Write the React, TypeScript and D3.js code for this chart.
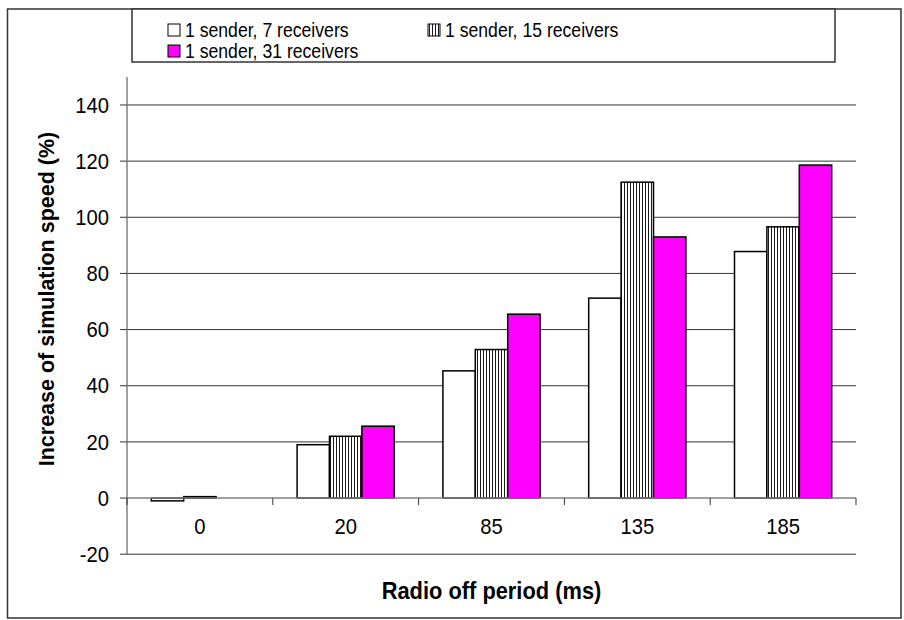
// Radio-off period vs. simulation speed gain — clustered bar chart in the
// old Excel look: framed page, boxed legend at the top, hatched middle series.
import * as d3 from "d3";

const CATEGORIES = ["0", "20", "85", "135", "185"];
const SERIES_NAMES = [
  "1 sender, 7 receivers",
  "1 sender, 15 receivers",
  "1 sender, 31 receivers",
];
const S7 = [-1, 19, 45.3, 71.2, 87.8];
const S15 = [0.5, 22, 52.9, 112.5, 96.6];
const S31 = [null, 25.6, 65.5, 93, 118.6];
const Y_TICKS = [-20, 0, 20, 40, 60, 80, 100, 120, 140];

const W = 904;
const H = 620;
const FONT = "'Liberation Sans', Arial, sans-serif";

// plot box (pixel frame of the value axis)
const left = 127;
const right = 856;
const y = d3.scaleLinear().domain([-20, 150]).range([554.2, 76.9]);

const fills = ["#ffffff", "url(#vstripes)", "#ff00ff"];

// Excel squeezed the type horizontally; mimic with a scaleX on each label
function SqText({
  x,
  y,
  sx,
  anchor,
  size,
  bold,
  children,
}: {
  x: number;
  y: number;
  sx: number;
  anchor?: "start" | "middle" | "end";
  size: number;
  bold?: boolean;
  children: string;
}) {
  return (
    <text
      transform={`translate(${x},${y}) scale(${sx},1)`}
      dy="0.35em"
      textAnchor={anchor ?? "start"}
      fontSize={size}
      fontWeight={bold ? "bold" : "normal"}
      fill="#000"
    >
      {children}
    </text>
  );
}

export default function App() {
  const x = d3.scaleBand<string>().domain(CATEGORIES).range([left, right]);
  const bw = x.bandwidth();
  const keys = ["a", "b", "c"];
  const xs = d3
    .scaleBand<string>()
    .domain(keys)
    .range([0, bw])
    .paddingInner(0)
    .paddingOuter(0.75);
  const values = [S7, S15, S31];

  const y0 = y(0);

  return (
    <svg
      width={W}
      height={H}
      viewBox={`0 0 ${W} ${H}`}
      style={{ position: "absolute", left: 0, top: 0 }}
      fontFamily={FONT}
    >
      <defs>
        <pattern id="vstripes" width={3} height={4} patternUnits="userSpaceOnUse">
          <rect width={3} height={4} fill="#ffffff" />
          <rect x={0} width={1} height={4} fill="#1a1a1a" />
        </pattern>
      </defs>
      <rect width={W} height={H} fill="#ffffff" />

      {/* outer frame */}
      <rect x={7.5} y={9} width={893.5} height={609} fill="none" stroke="#333" strokeWidth={1.5} />

      {/* gridlines */}
      {Y_TICKS.filter((t) => t !== 0).map((t) => (
        <line key={t} x1={left} x2={right} y1={y(t)} y2={y(t)} stroke="#333" strokeWidth={1} />
      ))}

      {/* y axis */}
      <line x1={left} x2={left} y1={y(150)} y2={y(-20)} stroke="#808080" strokeWidth={1.5} />
      {Y_TICKS.map((t) => (
        <g key={t}>
          <line x1={left - 7} x2={left} y1={y(t)} y2={y(t)} stroke="#333" strokeWidth={1} />
          <SqText x={109} y={y(t)} sx={0.92} anchor="end" size={22}>
            {String(t)}
          </SqText>
        </g>
      ))}

      {/* bars */}
      {values.map((vals, si) =>
        CATEGORIES.map((c, ci) => {
          const v = vals[ci];
          if (v == null) return null;
          const bx = (x(c) ?? 0) + (xs(keys[si]) ?? 0);
          const top = Math.min(y(v), y0);
          const h = Math.abs(y(v) - y0);
          return (
            <rect
              key={`${si}-${c}`}
              x={bx}
              y={top}
              width={xs.bandwidth()}
              height={h}
              fill={fills[si]}
              stroke="#000"
              strokeWidth={1.5}
            />
          );
        })
      )}

      {/* x axis at zero */}
      <line x1={left} x2={right} y1={y0} y2={y0} stroke="#808080" strokeWidth={1.5} />
      {[...CATEGORIES.map((c) => x(c) ?? 0), right].map((px, i) => (
        <line key={i} x1={px} x2={px} y1={y0} y2={y0 + 7} stroke="#333" strokeWidth={1} />
      ))}
      {CATEGORIES.map((c) => (
        <SqText key={c} x={(x(c) ?? 0) + bw / 2} y={y0 + 28} sx={0.92} anchor="middle" size={22}>
          {c}
        </SqText>
      ))}

      {/* axis titles */}
      <text
        transform={`translate(46,299) rotate(-90)`}
        textAnchor="middle"
        dy="0.35em"
        fontSize={21.5}
        fontWeight="bold"
        fill="#000"
      >
        Increase of simulation speed (%)
      </text>
      <SqText x={(left + right) / 2} y={591} sx={0.95} anchor="middle" bold size={23}>
        Radio off period (ms)
      </SqText>

      {/* legend */}
      <rect x={132} y={9} width={703} height={53} fill="#ffffff" stroke="#333" strokeWidth={1.5} />
      {SERIES_NAMES.map((name, i) => {
        const lx = i === 1 ? 428 : 168;
        const ly = i === 2 ? 51 : 30;
        return (
          <g key={name}>
            <rect x={lx} y={ly - 6} width={12} height={12} fill={fills[i]} stroke="#000" strokeWidth={1} />
            <SqText x={lx + 17} y={ly} sx={0.86} size={20.5}>
              {name}
            </SqText>
          </g>
        );
      })}
    </svg>
  );
}
